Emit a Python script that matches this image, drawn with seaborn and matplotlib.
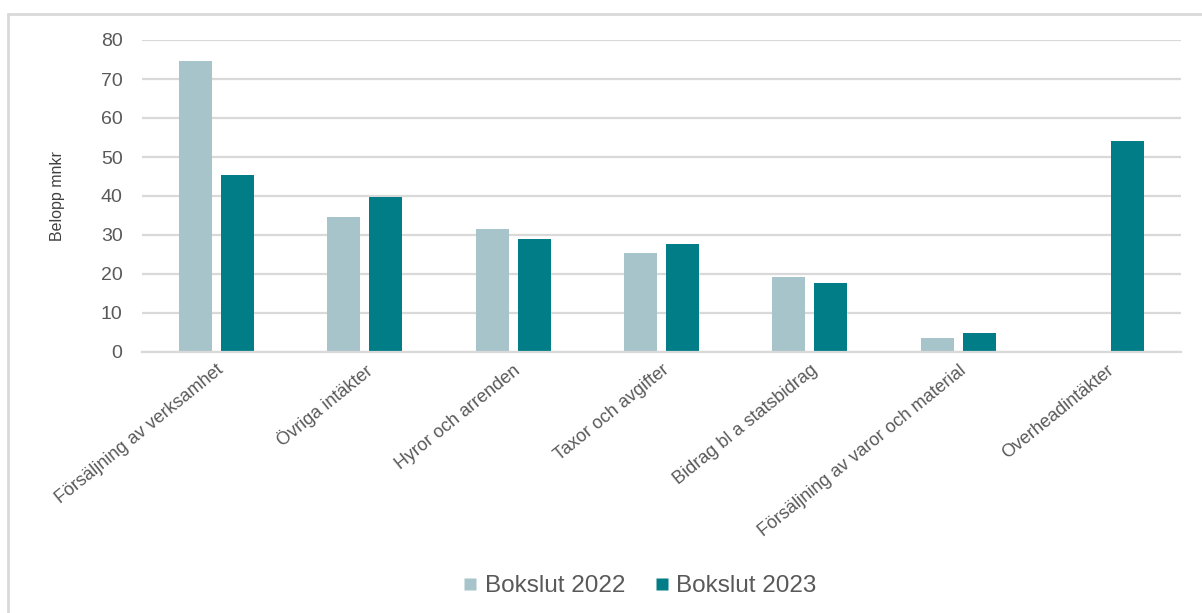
import numpy as np
import pandas as pd
import matplotlib
matplotlib.use("Agg")
import matplotlib.pyplot as plt
import seaborn as sns
from matplotlib.lines import Line2D

categories = [
    "Försäljning av verksamhet",
    "Övriga intäkter",
    "Hyror och arrenden",
    "Taxor och avgifter",
    "Bidrag bl a statsbidrag",
    "Försäljning av varor och material",
    "Overheadintäkter",
]
bokslut_2022 = [74.6, 34.6, 31.6, 25.4, 19.3, 3.7, np.nan]
bokslut_2023 = [45.3, 39.7, 29.1, 27.6, 17.6, 4.8, 54.2]
series = ["Bokslut 2022", "Bokslut 2023"]
colors = ["#A7C4CA", "#007D86"]

df = pd.DataFrame({
    "kategori": categories * 2,
    "serie": [series[0]] * len(categories) + [series[1]] * len(categories),
    "belopp": bokslut_2022 + bokslut_2023,
})

sns.set_style("white")
plt.rcParams["font.family"] = ["Liberation Sans", "DejaVu Sans"]

fig = plt.figure(figsize=(12.02, 6.13), dpi=100)
ax = fig.add_axes([142 / 1202, 1 - 352 / 613, (1181 - 142) / 1202, (352 - 40) / 613])

sns.barplot(data=df, x="kategori", y="belopp", hue="serie", order=categories,
            hue_order=series, palette=colors, saturation=1, width=0.566, gap=0.215,
            edgecolor="none", errorbar=None, ax=ax, legend=False)

ax.set_ylim(0, 80)
ax.set_yticks(range(0, 81, 10))
ax.set_xlim(-0.5, len(categories) - 0.5)
ax.yaxis.grid(True, color="#D9D9D9", linewidth=1.6)
ax.set_axisbelow(True)
for s in ["top", "right", "left"]:
    ax.spines[s].set_visible(False)
ax.spines["bottom"].set_color("#D9D9D9")
ax.spines["bottom"].set_linewidth(1.6)
ax.tick_params(axis="y", length=0, colors="#595959", labelsize=14, pad=14)
ax.tick_params(axis="x", length=0, colors="#595959", labelsize=13, pad=7)
ax.set_xlabel("")
ax.set_ylabel("Belopp mnkr", fontsize=11.5, color="#404040", labelpad=26)
plt.setp(ax.get_xticklabels(), rotation=39, ha="right", rotation_mode="anchor")

handles = [Line2D([], [], marker="s", linestyle="none", markersize=8.6,
                  markerfacecolor=c, markeredgecolor="none") for c in colors]
fig.legend(handles, series, loc="center", bbox_to_anchor=(636 / 1202, 1 - 586 / 613),
           ncol=2, frameon=False, fontsize=17.5, handletextpad=0.0,
           handlelength=1.2, columnspacing=0.9, labelcolor="#595959")

# chart frame (top and left edges visible)
fig.add_artist(Line2D([8 / 1202, 8 / 1202], [0, 1 - 14 / 613], color="#D9D9D9",
                      linewidth=2, transform=fig.transFigure))
fig.add_artist(Line2D([8 / 1202, 1], [1 - 14 / 613, 1 - 14 / 613], color="#D9D9D9",
                      linewidth=2, transform=fig.transFigure))

fig.savefig("out.png", dpi=100, facecolor="white")
